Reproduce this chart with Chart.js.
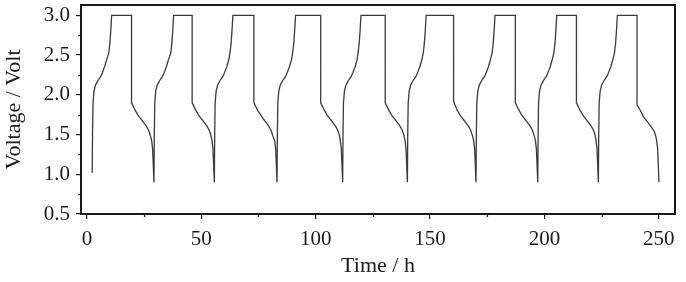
<!DOCTYPE html>
<html lang="en">
<head>
    <meta charset="UTF-8">
    <title>Voltage vs Time</title>
    <script src="https://cdn.jsdelivr.net/npm/chart.js"></script>
    <style>
        body { margin: 0; background: #fff; }
        canvas { display: block; }
    </style>
</head>
<body>
    <canvas id="cycleChart" width="686" height="282"></canvas>

    <script>
        // Time (h), one row per charge/discharge cycle
        const timeH = [
            2.3, 2.45, 2.65, 3.1, 3.7, 4.8, 5.8, 6.8, 7.8, 8.6, 9.5, 10.0, 10.4, 10.65, 10.8, 19.5, 19.5, 20.0, 21.0, 22.4, 23.5, 24.6, 26.1, 27.0, 27.7, 28.3, 28.7, 28.95, 29.15, 29.3,
            29.45, 29.65, 30.1, 30.7, 31.8, 32.8, 33.8, 34.8, 35.6, 36.6, 37.1, 37.5, 37.75, 37.9, 46.0, 46.0, 46.5, 47.5, 48.9, 50.0, 51.1, 52.6, 53.5, 54.2, 54.7, 55.1, 55.35, 55.55, 55.7,
            55.85, 56.05, 56.5, 57.1, 58.2, 59.2, 60.2, 61.2, 62.0, 62.5, 63.0, 63.4, 63.65, 63.8, 73.0, 73.0, 73.5, 74.5, 75.9, 77.0, 78.1, 79.6, 80.5, 81.2, 82.1, 82.5, 82.75, 82.95, 83.1,
            83.25, 83.45, 83.9, 84.5, 85.6, 86.6, 87.6, 88.6, 89.4, 89.9, 90.4, 90.8, 91.05, 91.2, 102.2, 102.2, 102.7, 103.7, 105.1, 106.2, 107.3, 108.8, 109.7, 110.4, 110.8, 111.2, 111.45, 111.65, 111.8,
            111.95, 112.15, 112.6, 113.2, 114.3, 115.3, 116.3, 117.3, 118.1, 118.5, 119.0, 119.4, 119.65, 119.8, 130.4, 130.4, 130.9, 131.9, 133.3, 134.4, 135.5, 137.0, 137.9, 138.6, 139.1, 139.5, 139.75, 139.95, 140.1,
            140.25, 140.45, 140.9, 141.5, 142.6, 143.6, 144.6, 145.6, 146.4, 147.0, 147.5, 147.9, 148.15, 148.3, 160.3, 160.3, 160.8, 161.8, 163.2, 164.3, 165.4, 166.9, 167.8, 168.5, 169.1, 169.5, 169.75, 169.95, 170.1,
            170.25, 170.45, 170.9, 171.5, 172.6, 173.6, 174.6, 175.6, 176.4, 177.1, 177.6, 178.0, 178.25, 178.4, 187.3, 187.3, 187.8, 188.8, 190.2, 191.3, 192.4, 193.9, 194.8, 195.5, 196.1, 196.5, 196.75, 196.95, 197.1,
            197.25, 197.45, 197.9, 198.5, 199.6, 200.6, 201.6, 202.6, 203.4, 204.1, 204.6, 205.0, 205.25, 205.4, 214.0, 214.0, 214.5, 215.5, 216.9, 218.0, 219.1, 220.6, 221.5, 222.2, 222.6, 223.0, 223.25, 223.45, 223.6,
            223.75, 223.95, 224.4, 225.0, 226.1, 227.1, 228.1, 229.1, 229.9, 230.6, 231.1, 231.5, 231.75, 231.9, 240.5, 240.5, 241.0, 242.0, 243.4, 244.5, 245.6, 247.1, 248.0, 248.7, 249.1, 249.5, 249.75, 249.95, 250.1
        ];

        // Voltage (V), same layout as timeH
        const voltage = [
            1.02, 1.55, 1.90, 2.05, 2.12, 2.18, 2.22, 2.28, 2.36, 2.44, 2.52, 2.64, 2.80, 2.92, 3.00, 3.00, 1.90, 1.87, 1.81, 1.74, 1.70, 1.66, 1.60, 1.55, 1.49, 1.42, 1.32, 1.15, 1.00, 0.90,
            1.50, 1.90, 2.05, 2.12, 2.18, 2.22, 2.28, 2.36, 2.44, 2.52, 2.64, 2.80, 2.92, 3.00, 3.00, 1.90, 1.87, 1.81, 1.74, 1.70, 1.66, 1.60, 1.55, 1.49, 1.42, 1.32, 1.15, 1.00, 0.90,
            1.50, 1.90, 2.05, 2.12, 2.18, 2.22, 2.28, 2.36, 2.44, 2.52, 2.64, 2.80, 2.92, 3.00, 3.00, 1.90, 1.87, 1.81, 1.75, 1.70, 1.66, 1.60, 1.55, 1.49, 1.42, 1.32, 1.15, 1.00, 0.90,
            1.50, 1.90, 2.05, 2.12, 2.18, 2.22, 2.28, 2.36, 2.44, 2.52, 2.64, 2.80, 2.92, 3.00, 3.00, 1.90, 1.87, 1.81, 1.74, 1.70, 1.66, 1.60, 1.55, 1.49, 1.42, 1.32, 1.15, 1.00, 0.90,
            1.50, 1.90, 2.05, 2.12, 2.18, 2.22, 2.28, 2.36, 2.44, 2.52, 2.64, 2.80, 2.92, 3.00, 3.00, 1.90, 1.87, 1.81, 1.74, 1.70, 1.66, 1.60, 1.55, 1.49, 1.42, 1.32, 1.15, 1.00, 0.90,
            1.50, 1.90, 2.05, 2.12, 2.18, 2.22, 2.28, 2.36, 2.44, 2.52, 2.64, 2.80, 2.92, 3.00, 3.00, 1.92, 1.88, 1.81, 1.74, 1.70, 1.66, 1.60, 1.55, 1.49, 1.42, 1.32, 1.15, 1.00, 0.90,
            1.50, 1.90, 2.05, 2.12, 2.18, 2.22, 2.28, 2.36, 2.44, 2.52, 2.64, 2.80, 2.92, 3.00, 3.00, 1.90, 1.87, 1.81, 1.74, 1.70, 1.66, 1.60, 1.55, 1.49, 1.42, 1.32, 1.15, 1.00, 0.90,
            1.50, 1.90, 2.05, 2.12, 2.18, 2.22, 2.28, 2.36, 2.44, 2.52, 2.64, 2.80, 2.92, 3.00, 3.00, 1.90, 1.87, 1.81, 1.74, 1.70, 1.66, 1.60, 1.55, 1.49, 1.42, 1.32, 1.15, 1.00, 0.90,
            1.50, 1.90, 2.05, 2.12, 2.18, 2.22, 2.28, 2.36, 2.44, 2.52, 2.64, 2.80, 2.92, 3.00, 3.00, 1.87, 1.85, 1.80, 1.72, 1.68, 1.64, 1.58, 1.54, 1.48, 1.42, 1.32, 1.15, 1.00, 0.90
        ];

        const xTicks = [0, 50, 100, 150, 200, 250];
        const xMinorTicks = [25, 75, 125, 175, 225];
        const yTicks = [0.5, 1.0, 1.5, 2.0, 2.5, 3.0];
        const yMinorTicks = [0.75, 1.25, 1.75, 2.25, 2.75];

        const points = timeH.map((t, i) => ({ x: t, y: voltage[i] }));

        const serif = "'Liberation Serif', 'Times New Roman', serif";
        const ink = '#1a1a1a';

        // box round the plot plus short minor ticks
        const framePlugin = {
            id: 'frame',
            afterDraw(chart) {
                const { ctx, chartArea: a, scales } = chart;
                ctx.save();
                ctx.strokeStyle = ink;
                ctx.lineWidth = 2;
                ctx.strokeRect(a.left, a.top, a.right - a.left, a.bottom - a.top);
                ctx.lineWidth = 1.2;
                ctx.beginPath();
                xMinorTicks.forEach(v => {
                    const px = Math.round(scales.x.getPixelForValue(v)) + 0.5;
                    ctx.moveTo(px, a.bottom);
                    ctx.lineTo(px, a.bottom + 3);
                });
                yMinorTicks.forEach(v => {
                    const py = Math.round(scales.y.getPixelForValue(v)) + 0.5;
                    ctx.moveTo(a.left, py);
                    ctx.lineTo(a.left - 3, py);
                });
                ctx.stroke();
                ctx.restore();
            }
        };

        new Chart(document.getElementById('cycleChart'), {
            type: 'line',
            data: {
                datasets: [{
                    data: points,
                    borderColor: '#3a3a3a',
                    borderWidth: 1.3,
                    pointRadius: 0,
                    // tiny tension keeps chart.js off its per-pixel fast path (it was leaving jogs)
                    tension: 0.001,
                    fill: false
                }]
            },
            options: {
                responsive: false,
                animation: false,
                layout: { padding: { top: 5, right: 11, left: 0, bottom: 0 } },
                plugins: { legend: { display: false }, tooltip: { enabled: false } },
                scales: {
                    x: {
                        type: 'linear',
                        min: -2.6,
                        max: 257.1,
                        afterBuildTicks: s => { s.ticks = xTicks.map(v => ({ value: v })); },
                        afterFit: s => { s.height = 68; s.paddingLeft = 0; s.paddingRight = 0; },
                        grid: { drawOnChartArea: false, drawTicks: true, tickLength: 5, color: ink, lineWidth: 1.2 },
                        border: { display: false },
                        ticks: {
                            color: ink,
                            padding: 8,
                            maxRotation: 0,
                            font: { family: serif, size: 21 }
                        },
                        title: {
                            display: true,
                            text: 'Time / h',
                            color: ink,
                            padding: { top: 0, bottom: 3 },
                            font: { family: serif, size: 22 }
                        }
                    },
                    y: {
                        min: 0.5,
                        max: 3.13,
                        afterBuildTicks: s => { s.ticks = yTicks.map(v => ({ value: v })); },
                        afterFit: s => { s.width = 81; s.paddingTop = 0; s.paddingBottom = 0; },
                        grid: { drawOnChartArea: false, drawTicks: true, tickLength: 5, color: ink, lineWidth: 1.2 },
                        border: { display: false },
                        ticks: {
                            color: ink,
                            padding: 6,
                            font: { family: serif, size: 21 },
                            callback: v => v.toFixed(1)
                        },
                        title: {
                            display: true,
                            text: 'Voltage / Volt',
                            color: ink,
                            padding: { top: 1, bottom: 0 },
                            font: { family: serif, size: 22 }
                        }
                    }
                }
            },
            plugins: [framePlugin]
        });
    </script>
</body>
</html>
